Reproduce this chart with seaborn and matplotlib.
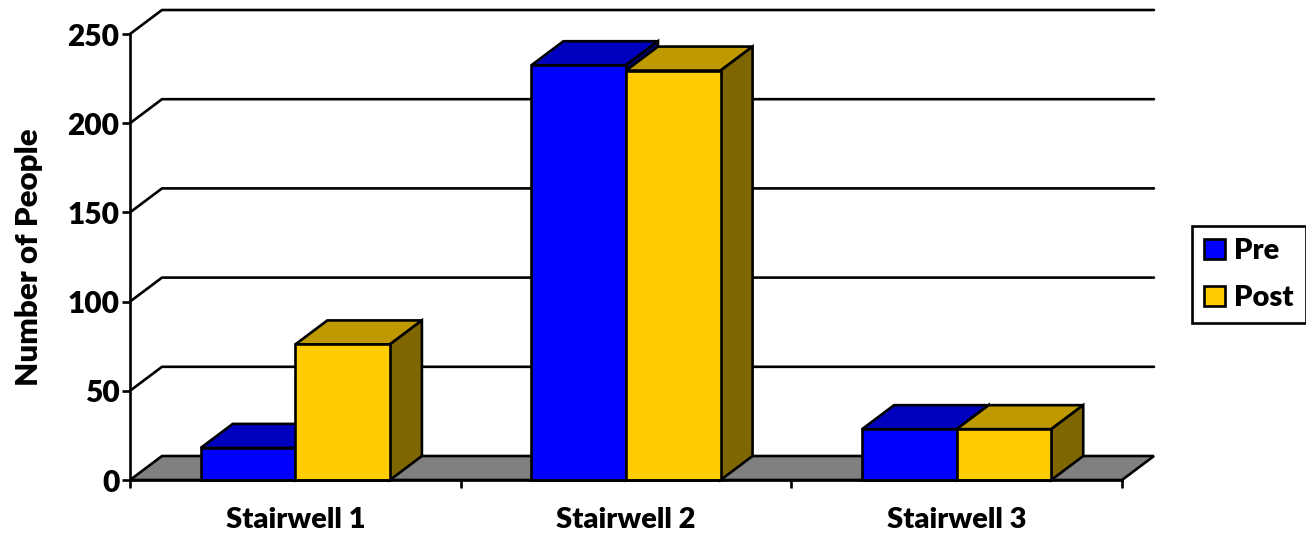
"""Stairwell use before and after, drawn as a fake-3D clustered bar chart."""
import matplotlib
matplotlib.use("Agg")
import matplotlib.pyplot as plt
import pandas as pd
import seaborn as sns
from matplotlib.patches import Patch, Polygon, Rectangle

stairwells = ["Stairwell 1", "Stairwell 2", "Stairwell 3"]
pre_values = [18, 232.5, 28.5]
post_values = [76, 229.5, 28.5]
y_ticks = [0, 50, 100, 150, 200, 250]

FRONT = {"Pre": "#0000FF", "Post": "#FFCC00"}
TOP = {"Pre": "#0000BF", "Post": "#BF9900"}
SIDE = {"Pre": "#000080", "Post": "#806600"}
LW = 1.9

W, H = 1306, 536
PLOT_TOP, PLOT_BOTTOM, PLOT_LEFT, PLOT_RIGHT = 34, 480, 130, 1122
sns.set_theme(style="white")
plt.rcParams["font.family"] = ["Lato", "DejaVu Sans"]
plt.rcParams["font.weight"] = "heavy"
plt.rcParams["text.color"] = "black"

df = pd.DataFrame({
    "stairwell": stairwells * 2,
    "period": ["Pre"] * 3 + ["Post"] * 3,
    "people": pre_values + post_values,
})

fig = plt.figure(figsize=(W / 100, H / 100), dpi=100)
ax = fig.add_axes([PLOT_LEFT / W, 1 - PLOT_BOTTOM / H,
                   (PLOT_RIGHT - PLOT_LEFT) / W, (PLOT_BOTTOM - PLOT_TOP) / H])
sns.barplot(data=df, x="stairwell", y="people", hue="period", palette=FRONT,
            width=0.572, gap=0, edgecolor="black", linewidth=LW, saturation=1,
            legend=False, ax=ax, zorder=5)
ax.set_xlim(-0.5, 2.5)
ax.set_ylim(0, 250)

# keep only the real bars, left to right, before any other patch is added
bars = [b for b in ax.patches if isinstance(b, Rectangle) and b.get_height() > 0]
bars = sorted(bars, key=lambda b: b.get_x())

# depth of the fake 3D box, converted from pixels to data units
dx = 32 / ((PLOT_RIGHT - PLOT_LEFT) / 3)
dy = 24 / ((PLOT_BOTTOM - PLOT_TOP) / 250)

# floor and back wall
ax.add_patch(Polygon([(-0.5, 0), (-0.5 + dx, dy), (2.5 + dx, dy), (2.5, 0)],
                     closed=True, fc="#808080", ec="black", lw=LW,
                     clip_on=False, zorder=1))
for t in y_ticks[1:]:
    ax.plot([-0.5, -0.5 + dx, 2.5 + dx], [t, t + dy, t + dy], color="black",
            lw=LW, clip_on=False, zorder=1, solid_joinstyle="miter")

# top and side faces, worked out from the bars seaborn drew
for i, bar in enumerate(bars):
    x0, x1 = bar.get_x(), bar.get_x() + bar.get_width()
    h = bar.get_height()
    key = "Pre" if i % 2 == 0 else "Post"
    z = 3 if key == "Pre" else 4
    ax.add_patch(Polygon([(x0, h), (x0 + dx, h + dy), (x1 + dx, h + dy), (x1, h)],
                         closed=True, fc=TOP[key], ec="black", lw=LW,
                         clip_on=False, zorder=z))
    ax.add_patch(Polygon([(x1, 0), (x1 + dx, dy), (x1 + dx, h + dy), (x1, h)],
                         closed=True, fc=SIDE[key], ec="black", lw=LW,
                         clip_on=False, zorder=z))
    bar.set_zorder(6 if key == "Post" else 5)
    bar.set_clip_on(False)

sns.despine(ax=ax, top=True, right=True)
for side in ("left", "bottom"):
    ax.spines[side].set_linewidth(LW)
    ax.spines[side].set_color("black")
    ax.spines[side].set_zorder(7)

ax.set_yticks(y_ticks)
ax.set_xticks([0, 1, 2])
ax.set_xticks([-0.5, 0.5, 1.5, 2.5], minor=True)
ax.tick_params(axis="y", length=6, width=LW, color="black", left=True,
               labelsize=21.5, pad=1.5, labelcolor="black")
ax.tick_params(axis="x", which="major", length=0, labelsize=21, pad=19.5,
               labelcolor="black")
ax.tick_params(axis="x", which="minor", length=6, width=LW, color="black",
               bottom=True)
ax.set_xlabel("")
ax.set_ylabel("")
fig.text(29 / W, 1 - 257 / H, "Number of People", rotation=90, ha="center",
         va="center", fontsize=22.5, color="black")

leg = fig.legend(handles=[Patch(fc=FRONT[k], ec="black", lw=LW, label=k) for k in FRONT],
                 loc="upper left", bbox_to_anchor=(1192 / W, 1 - 226 / H),
                 bbox_transform=fig.transFigure, borderaxespad=0, fontsize=21,
                 frameon=True, fancybox=False, edgecolor="black", framealpha=1,
                 handlelength=0.72, handleheight=0.72, handletextpad=0.3,
                 labelspacing=0.72, borderpad=0.42)
leg.get_frame().set_linewidth(LW)

fig.savefig("out.png", dpi=100, facecolor="white")
